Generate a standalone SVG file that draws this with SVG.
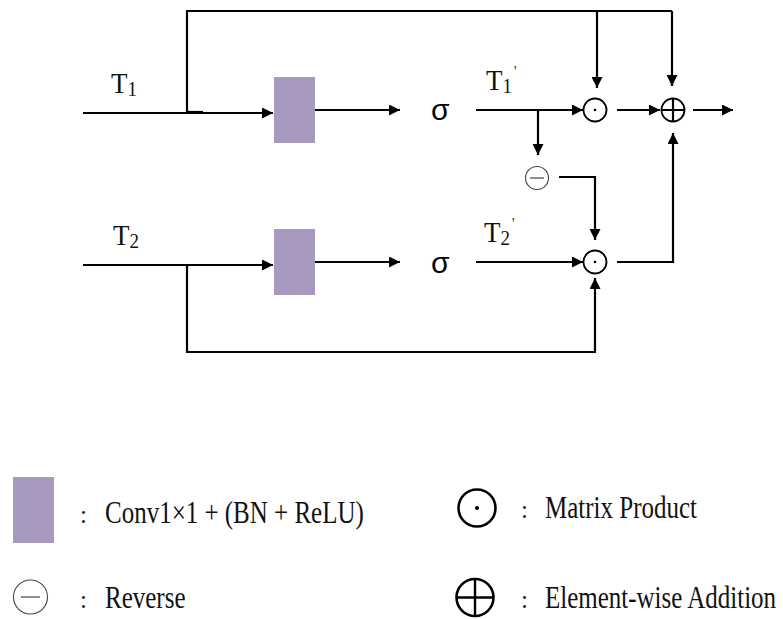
<svg xmlns="http://www.w3.org/2000/svg" width="783" height="619" viewBox="0 0 783 619">
<defs>
<marker id="ah" viewBox="0 0 10 10" refX="10" refY="5" markerWidth="12" markerHeight="11" markerUnits="userSpaceOnUse" orient="auto">
<path d="M0,0 L10,5 L0,10 Z" fill="#000"/>
</marker>
</defs>
<style>
.ln{fill:none;stroke:#000;stroke-width:2.2}
.ar{fill:none;stroke:#000;stroke-width:2.2;marker-end:url(#ah)}
.box{fill:#A899C1}
.op{fill:#fff;stroke:#000;stroke-width:1.8}
.rv{fill:#fff;stroke:#444;stroke-width:1.1}
.t{font-family:"Liberation Serif",serif;fill:#111}
.s{font-family:"Liberation Sans",sans-serif;fill:#000}
</style>
<rect width="783" height="619" fill="#fff"/>
<g id="connectors">
<path class="ar" d="M83,113 H273"/>
<path class="ln" d="M187,113 V11 H672"/>
<path class="ln" d="M187,112 H203"/>
<path class="ar" d="M597,11 V88"/>
<path class="ar" d="M672,11 V86"/>
<path class="ar" d="M315,110 H400"/>
<path class="ar" d="M476,110 H583"/>
<path class="ar" d="M538,110 V155"/>
<path class="ar" d="M617,110 H660"/>
<path class="ar" d="M693,110 H733"/>
<path class="ar" d="M617,262 H673 V133"/>
<path class="ar" d="M559,177 H595 V240"/>
<path class="ar" d="M83,265 H273"/>
<path class="ar" d="M187,265 V352 H595 V278"/>
<path class="ar" d="M315,262 H400"/>
<path class="ar" d="M476,262 H583"/>
</g>
<g id="conv1"><rect class="box" x="274" y="77" width="41" height="66"/></g>
<g id="conv2"><rect class="box" x="274" y="229" width="41" height="66"/></g>
<g id="sigma1"><text class="s" x="431" y="120" font-size="30">σ</text></g>
<g id="sigma2"><text class="s" x="431" y="273" font-size="30">σ</text></g>
<g id="label-T1" transform="translate(111,93) scale(1,1.1)"><text class="t" font-size="27">T<tspan font-size="19" dy="3">1</tspan></text></g>
<g id="label-T2" transform="translate(113,245) scale(1,1.1)"><text class="t" font-size="27">T<tspan font-size="19" dy="3">2</tspan></text></g>
<g id="label-T1p" transform="translate(486,90) scale(1,1.1)"><text class="t" font-size="27">T<tspan font-size="19" dy="3">1</tspan><tspan font-size="14" dy="-16" dx="2">'</tspan></text></g>
<g id="label-T2p" transform="translate(484,242) scale(1,1.1)"><text class="t" font-size="27">T<tspan font-size="19" dy="3">2</tspan><tspan font-size="14" dy="-16" dx="2">'</tspan></text></g>
<g id="prod1"><circle class="op" cx="595" cy="110" r="11.5"/><circle cx="595" cy="110" r="1.3" fill="#000"/></g>
<g id="add"><circle class="op" cx="673" cy="110" r="11.5"/><path class="ln" stroke-width="1.6" d="M661.5,110 H684.5 M673,98.5 V121.5"/></g>
<g id="reverse"><circle class="rv" cx="537" cy="178" r="11.5"/><path d="M530,178 H544" stroke="#444" stroke-width="1.2"/></g>
<g id="prod2"><circle class="op" cx="595" cy="262" r="11.5"/><circle cx="595" cy="262" r="1.3" fill="#000"/></g>
<g id="legend">
<g id="leg-conv"><rect class="box" x="13" y="477" width="41" height="66"/><text class="t" x="80" y="523" font-size="25">:</text><text class="t" font-size="25" transform="translate(105,523) scale(1,1.25)">Conv1×1 + (BN + ReLU)</text></g>
<g id="leg-rev"><circle class="rv" cx="30.5" cy="597" r="17"/><path d="M21,597 H40" stroke="#444" stroke-width="1.2"/><text class="t" x="80" y="608" font-size="25">:</text><text class="t" font-size="25" transform="translate(105,608) scale(1,1.25)">Reverse</text></g>
<g id="leg-prod"><circle cx="477" cy="508" r="18.5" fill="#fff" stroke="#000" stroke-width="2.6"/><circle cx="477" cy="508" r="2" fill="#000"/><text class="t" x="521" y="518" font-size="25">:</text><text class="t" font-size="25" transform="translate(545,518) scale(1,1.25)">Matrix Product</text></g>
<g id="leg-add"><circle cx="475" cy="597.5" r="18.5" fill="#fff" stroke="#000" stroke-width="2.6"/><path d="M456.5,597.5 H493.5 M475,579 V616" stroke="#000" stroke-width="2.4"/><text class="t" x="521" y="608" font-size="25">:</text><text class="t" font-size="25" transform="translate(545,608) scale(1,1.25)">Element-wise Addition</text></g>
</g>
</svg>
